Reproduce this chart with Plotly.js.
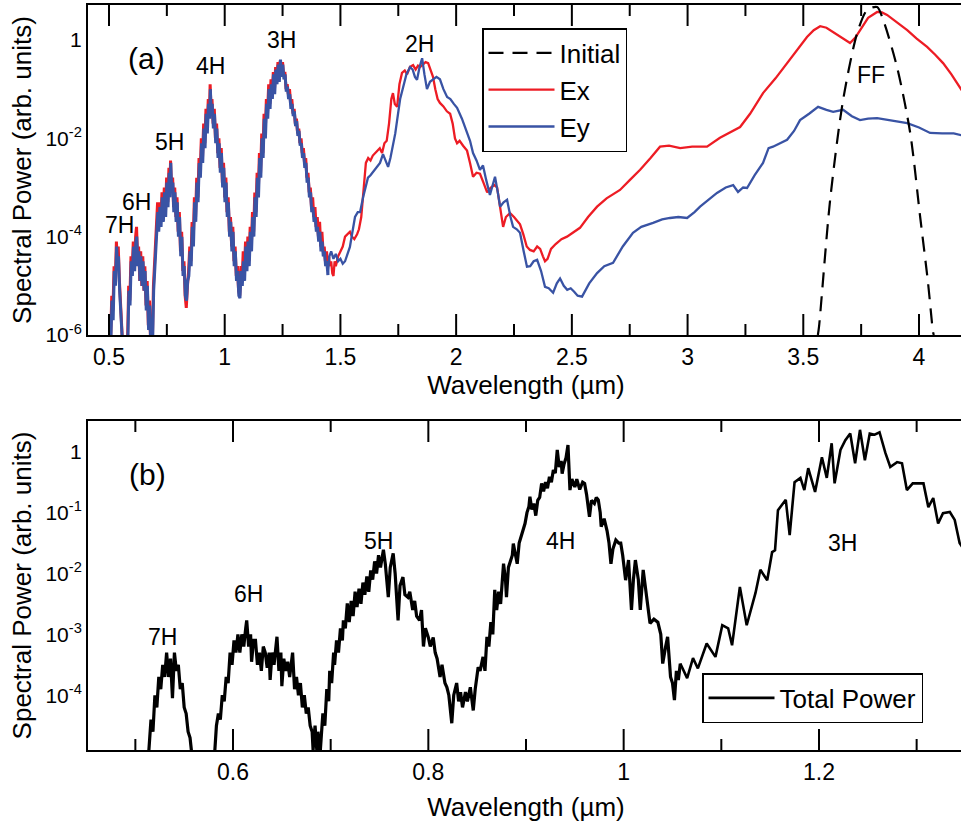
<!DOCTYPE html>
<html>
<head>
<meta charset="utf-8">
<script src="https://cdn.plot.ly/plotly-3.0.1.min.js"></script>
<style>
  html, body { margin: 0; padding: 0; background: #fff; overflow: hidden; }
  #chart { width: 964px; height: 824px; }
</style>
</head>
<body>
<div id="chart"></div>
<script>
// ---------------- DATA (y stored as log10 of spectral power) ----------------
// Panel (a): Ex component (red)
const exX = [0.505,0.512,0.517,0.522,0.527,0.532,0.536,0.540,0.545,0.550,0.555,0.561,0.572,0.580,0.585,0.590,0.595,0.600,0.605,0.610,0.615,0.619,0.624,0.628,0.633,0.637,0.642,0.646,0.651,0.655,0.660,0.665,0.670,0.675,0.680,0.686,0.692,0.697,0.702,0.706,0.710,0.714,0.719,0.724,0.729,0.734,0.739,0.744,0.749,0.754,0.759,0.763,0.766,0.770,0.775,0.779,0.784,0.789,0.794,0.799,0.804,0.809,0.814,0.819,0.824,0.829,0.834,0.839,0.844,0.849,0.854,0.859,0.864,0.869,0.874,0.879,0.884,0.889,0.894,0.899,0.904,0.909,0.914,0.919,0.924,0.929,0.934,0.937,0.941,0.945,0.950,0.955,0.960,0.965,0.970,0.975,0.980,0.985,0.990,0.995,1.000,1.005,1.010,1.015,1.020,1.025,1.030,1.035,1.040,1.045,1.050,1.055,1.060,1.065,1.070,1.075,1.080,1.085,1.090,1.095,1.100,1.105,1.110,1.115,1.120,1.125,1.130,1.135,1.140,1.145,1.150,1.155,1.160,1.165,1.170,1.175,1.180,1.185,1.190,1.195,1.200,1.205,1.210,1.215,1.220,1.225,1.230,1.235,1.240,1.245,1.250,1.255,1.260,1.265,1.270,1.275,1.280,1.285,1.290,1.295,1.300,1.305,1.310,1.315,1.320,1.325,1.330,1.335,1.340,1.345,1.350,1.355,1.360,1.365,1.370,1.375,1.380,1.385,1.390,1.395,1.400,1.405,1.410,1.415,1.420,1.425,1.430,1.435,1.440,1.445,1.450,1.455,1.460,1.465,1.470,1.475,1.480,1.490,1.500,1.510,1.520,1.530,1.541,1.550,1.560,1.572,1.580,1.590,1.600,1.610,1.620,1.630,1.640,1.650,1.660,1.670,1.680,1.690,1.700,1.710,1.720,1.727,1.735,1.745,1.755,1.766,1.778,1.788,1.800,1.814,1.825,1.835,1.844,1.855,1.868,1.879,1.890,1.900,1.910,1.920,1.930,1.945,1.960,1.974,1.985,1.995,2.004,2.015,2.030,2.047,2.060,2.073,2.088,2.103,2.118,2.134,2.150,2.165,2.177,2.190,2.203,2.215,2.233,2.250,2.265,2.276,2.290,2.305,2.319,2.335,2.350,2.363,2.375,2.384,2.395,2.410,2.430,2.455,2.479,2.505,2.535,2.570,2.609,2.650,2.708,2.750,2.795,2.840,2.881,2.920,2.968,3.020,3.084,3.140,3.185,3.227,3.270,3.326,3.380,3.430,3.475,3.516,3.545,3.573,3.600,3.629,3.665,3.702,3.725,3.745,3.780,3.819,3.840,3.862,3.905,3.949,3.990,4.035,4.070,4.104,4.140,4.182,4.195];
const exLog = [-6.4,-5.2,-5.5,-4.6,-4.9,-4.1,-4.5,-4.2,-4.9,-5.3,-5.8,-6.4,-6.6,-6.2,-5.0,-5.3,-4.4,-4.7,-4.1,-4.6,-4.0,-3.8,-4.5,-4.2,-4.9,-4.3,-5.0,-4.4,-5.1,-4.6,-5.4,-4.9,-5.8,-5.3,-6.2,-6.5,-5.0,-4.5,-4.2,-3.9,-3.3,-3.8,-3.3,-3.7,-3.1,-3.6,-3.0,-3.5,-2.8,-3.3,-2.6,-3.1,-2.45,-3.0,-2.8,-3.4,-3.0,-3.6,-3.2,-3.9,-3.5,-4.3,-3.9,-4.7,-4.5,-5.2,-5.45,-5.0,-4.7,-4.2,-4.5,-3.7,-4.1,-3.2,-3.6,-2.8,-3.2,-2.4,-2.7,-2.0,-2.4,-1.7,-2.1,-1.4,-1.8,-1.2,-1.5,-0.9,-1.4,-1.2,-1.7,-1.4,-2.0,-1.7,-2.3,-2.0,-2.6,-2.2,-2.9,-2.5,-3.2,-2.8,-3.5,-3.2,-3.9,-3.6,-4.2,-3.8,-4.5,-4.2,-4.8,-4.6,-5.1,-5.2,-4.6,-4.9,-4.3,-4.7,-4.1,-4.6,-4.0,-4.5,-3.8,-4.2,-3.5,-3.9,-3.1,-3.5,-2.7,-3.1,-2.3,-2.7,-1.9,-2.3,-1.5,-1.9,-1.2,-1.5,-0.9,-1.3,-0.8,-1.1,-0.65,-1.0,-0.55,-0.85,-0.45,-0.8,-0.42,-0.7,-0.45,-0.75,-0.65,-1.0,-0.9,-1.1,-1.0,-1.3,-1.2,-1.5,-1.4,-1.7,-1.6,-1.9,-1.8,-2.1,-2.0,-2.3,-2.2,-2.5,-2.4,-2.8,-2.7,-3.1,-3.0,-3.4,-3.2,-3.6,-3.4,-3.8,-3.6,-4.0,-3.7,-4.2,-3.9,-4.3,-4.2,-4.5,-4.3,-4.6,-4.4,-4.6,-4.5,-4.75,-4.8,-4.5,-4.6,-4.4,-4.3,-4.2,-4.0,-3.95,-3.9,-4.0,-4.05,-3.95,-3.85,-3.6,-3.0,-2.5,-2.4,-2.45,-2.35,-2.3,-2.25,-2.2,-2.3,-2.1,-2.05,-1.7,-1.2,-1.08,-1.3,-1.36,-0.9,-0.67,-0.62,-0.7,-0.55,-0.51,-0.6,-0.52,-0.55,-0.5,-0.45,-0.47,-0.6,-0.75,-1.0,-1.2,-1.28,-1.35,-1.45,-1.5,-1.7,-2.0,-2.1,-2.05,-2.15,-2.25,-2.5,-2.78,-2.7,-2.72,-2.9,-3.1,-3.0,-2.95,-3.0,-3.4,-3.8,-3.6,-3.52,-3.6,-3.7,-3.75,-3.95,-4.2,-4.27,-4.3,-4.2,-4.25,-4.4,-4.5,-4.45,-4.25,-4.15,-4.05,-4.0,-3.92,-3.82,-3.6,-3.39,-3.22,-3.05,-2.85,-2.64,-2.4,-2.17,-2.15,-2.2,-2.17,-2.17,-1.99,-1.88,-1.77,-1.5,-1.08,-0.78,-0.47,-0.2,0.06,0.2,0.28,0.25,0.16,0.05,-0.06,0.05,0.2,0.45,0.57,0.56,0.51,0.36,0.2,0.03,-0.14,-0.3,-0.47,-0.7,-1.02,-1.1];

// Panel (a): Ey component (blue)
const eyX = [0.507,0.513,0.518,0.523,0.528,0.533,0.537,0.541,0.546,0.551,0.556,0.562,0.573,0.581,0.586,0.591,0.596,0.601,0.606,0.611,0.616,0.620,0.625,0.629,0.634,0.638,0.643,0.647,0.652,0.656,0.661,0.666,0.671,0.676,0.681,0.687,0.693,0.698,0.703,0.707,0.711,0.715,0.720,0.725,0.730,0.735,0.740,0.745,0.750,0.755,0.760,0.764,0.767,0.771,0.776,0.780,0.785,0.790,0.795,0.800,0.805,0.810,0.815,0.820,0.825,0.830,0.835,0.840,0.845,0.850,0.855,0.860,0.865,0.870,0.875,0.880,0.885,0.890,0.895,0.900,0.905,0.910,0.915,0.920,0.925,0.930,0.935,0.938,0.942,0.946,0.951,0.956,0.961,0.966,0.971,0.976,0.981,0.986,0.991,0.996,1.001,1.006,1.011,1.016,1.021,1.026,1.031,1.036,1.041,1.046,1.051,1.056,1.061,1.066,1.071,1.076,1.081,1.086,1.091,1.096,1.101,1.106,1.111,1.116,1.121,1.126,1.131,1.136,1.141,1.146,1.151,1.156,1.161,1.166,1.171,1.176,1.181,1.186,1.191,1.196,1.201,1.206,1.211,1.216,1.221,1.226,1.231,1.236,1.241,1.246,1.251,1.256,1.261,1.266,1.271,1.276,1.281,1.286,1.291,1.296,1.301,1.306,1.311,1.316,1.321,1.326,1.331,1.336,1.341,1.346,1.351,1.356,1.361,1.366,1.371,1.376,1.381,1.386,1.391,1.396,1.401,1.406,1.411,1.416,1.421,1.426,1.431,1.436,1.441,1.446,1.452,1.460,1.470,1.480,1.490,1.500,1.510,1.520,1.530,1.541,1.552,1.563,1.575,1.585,1.598,1.610,1.619,1.630,1.641,1.655,1.671,1.684,1.695,1.706,1.716,1.727,1.737,1.745,1.758,1.771,1.785,1.801,1.812,1.822,1.831,1.842,1.853,1.863,1.874,1.887,1.900,1.915,1.930,1.945,1.961,1.975,1.990,2.004,2.025,2.047,2.060,2.073,2.088,2.103,2.116,2.130,2.146,2.158,2.168,2.180,2.190,2.205,2.220,2.235,2.246,2.262,2.276,2.292,2.306,2.320,2.335,2.350,2.367,2.384,2.400,2.419,2.435,2.449,2.465,2.480,2.495,2.510,2.525,2.544,2.575,2.609,2.640,2.678,2.720,2.764,2.800,2.851,2.890,2.924,2.960,2.998,3.030,3.054,3.090,3.127,3.165,3.197,3.218,3.240,3.257,3.290,3.326,3.350,3.369,3.400,3.430,3.460,3.486,3.525,3.564,3.600,3.629,3.672,3.710,3.745,3.780,3.819,3.860,3.949,4.000,4.048,4.100,4.150,4.195];
const eyLog = [-6.3,-5.3,-5.7,-4.7,-5.0,-4.2,-4.6,-4.4,-5.1,-5.5,-6.0,-6.5,-6.6,-6.2,-5.1,-5.4,-4.5,-4.8,-4.2,-4.7,-4.1,-4.0,-4.6,-4.3,-4.9,-4.4,-5.0,-4.5,-5.1,-4.7,-5.5,-5.0,-5.9,-5.4,-6.3,-6.5,-5.1,-4.6,-4.3,-4.0,-3.5,-3.9,-3.4,-3.8,-3.2,-3.7,-3.1,-3.6,-2.9,-3.4,-2.7,-3.2,-2.5,-3.1,-2.9,-3.5,-3.1,-3.7,-3.3,-4.0,-3.6,-4.4,-4.0,-4.8,-4.6,-5.2,-5.3,-4.9,-4.8,-4.3,-4.6,-3.8,-4.2,-3.3,-3.7,-2.9,-3.3,-2.5,-2.8,-2.1,-2.5,-1.8,-2.2,-1.5,-1.9,-1.3,-1.6,-1.0,-1.5,-1.3,-1.8,-1.5,-2.1,-1.8,-2.4,-2.1,-2.7,-2.3,-3.0,-2.6,-3.3,-2.9,-3.6,-3.3,-4.0,-3.7,-4.3,-3.9,-4.6,-4.3,-4.9,-4.7,-5.2,-5.25,-4.7,-5.0,-4.5,-4.9,-4.2,-4.7,-4.1,-4.6,-3.9,-4.3,-3.6,-4.0,-3.2,-3.6,-2.8,-3.2,-2.4,-2.8,-2.0,-2.4,-1.6,-2.0,-1.3,-1.6,-1.0,-1.4,-0.9,-1.2,-0.7,-1.1,-0.6,-0.9,-0.5,-0.85,-0.4,-0.75,-0.5,-0.8,-0.7,-1.05,-0.95,-1.2,-1.1,-1.4,-1.3,-1.55,-1.45,-1.75,-1.65,-1.95,-1.85,-2.15,-2.1,-2.4,-2.3,-2.6,-2.5,-2.9,-2.8,-3.2,-3.1,-3.5,-3.4,-3.7,-3.6,-3.9,-3.8,-4.1,-3.9,-4.3,-4.1,-4.4,-4.3,-4.6,-4.5,-4.78,-4.4,-4.3,-4.45,-4.35,-4.5,-4.45,-4.55,-4.5,-4.35,-4.21,-3.9,-3.6,-3.5,-3.5,-3.2,-2.95,-2.8,-2.75,-2.68,-2.6,-2.5,-2.32,-2.45,-2.58,-2.4,-2.17,-1.9,-1.63,-1.2,-0.96,-0.7,-0.55,-0.6,-0.75,-0.81,-0.55,-0.37,-0.7,-1.0,-0.85,-0.81,-0.75,-0.8,-1.0,-1.16,-1.2,-1.3,-1.38,-1.6,-1.89,-2.05,-2.3,-2.45,-2.64,-2.55,-2.85,-3.15,-2.95,-2.78,-3.1,-3.39,-3.3,-3.25,-3.6,-3.8,-3.85,-3.92,-4.3,-4.61,-4.6,-4.5,-4.47,-4.7,-5.02,-5.05,-5.14,-4.95,-4.85,-5.0,-5.08,-5.05,-5.12,-5.2,-5.22,-4.95,-4.74,-4.6,-4.53,-4.2,-3.92,-3.8,-3.72,-3.65,-3.62,-3.6,-3.62,-3.5,-3.39,-3.25,-3.11,-3.0,-2.95,-3.09,-3.0,-3.01,-2.75,-2.5,-2.2,-2.17,-2.1,-2.03,-1.85,-1.63,-1.5,-1.36,-1.42,-1.46,-1.42,-1.55,-1.63,-1.6,-1.59,-1.62,-1.69,-1.78,-1.89,-1.9,-1.9,-1.95];

// Panel (a): initial pulse (dashed)
const initX = [3.563,3.568,3.616,3.672,3.733,3.776,3.819,3.845,3.905,3.962,4.005,4.039,4.061,4.064];
const initLog = [-6.0,-5.83,-3.25,-1.22,0.14,0.61,0.67,0.41,-0.55,-1.89,-3.60,-4.94,-5.95,-6.0];

// Panel (b): total power (black)
const totX = [0.513,0.516,0.518,0.520,0.522,0.524,0.526,0.528,0.530,0.532,0.534,0.536,0.538,0.540,0.542,0.544,0.546,0.548,0.550,0.552,0.554,0.556,0.558,0.570,0.581,0.583,0.585,0.587,0.589,0.591,0.593,0.595,0.597,0.599,0.601,0.603,0.605,0.607,0.609,0.611,0.613,0.614,0.616,0.618,0.619,0.621,0.623,0.625,0.627,0.629,0.631,0.633,0.635,0.637,0.638,0.640,0.642,0.644,0.645,0.647,0.649,0.650,0.652,0.654,0.656,0.658,0.660,0.661,0.663,0.665,0.667,0.669,0.671,0.673,0.675,0.677,0.679,0.681,0.682,0.684,0.686,0.687,0.689,0.692,0.694,0.696,0.698,0.699,0.701,0.703,0.704,0.706,0.708,0.710,0.712,0.713,0.715,0.717,0.719,0.721,0.723,0.725,0.727,0.729,0.731,0.733,0.735,0.737,0.739,0.741,0.743,0.745,0.747,0.749,0.751,0.754,0.756,0.759,0.761,0.764,0.766,0.769,0.771,0.774,0.776,0.779,0.781,0.784,0.786,0.788,0.791,0.793,0.795,0.797,0.800,0.802,0.805,0.807,0.809,0.812,0.814,0.817,0.819,0.821,0.824,0.826,0.829,0.831,0.833,0.835,0.838,0.840,0.843,0.846,0.848,0.851,0.853,0.856,0.858,0.860,0.862,0.864,0.866,0.868,0.870,0.872,0.874,0.876,0.877,0.879,0.880,0.882,0.884,0.886,0.887,0.889,0.891,0.893,0.895,0.897,0.899,0.901,0.903,0.904,0.906,0.908,0.910,0.912,0.914,0.916,0.918,0.920,0.922,0.924,0.926,0.928,0.930,0.932,0.934,0.936,0.937,0.939,0.941,0.943,0.945,0.947,0.950,0.952,0.955,0.958,0.960,0.962,0.965,0.967,0.970,0.972,0.974,0.976,0.977,0.980,0.983,0.985,0.987,0.989,0.992,0.995,0.997,0.999,1.002,1.005,1.008,1.010,1.012,1.015,1.017,1.020,1.023,1.027,1.031,1.035,1.038,1.040,1.043,1.045,1.048,1.050,1.052,1.054,1.056,1.058,1.065,1.071,1.076,1.085,1.094,1.101,1.107,1.111,1.119,1.126,1.135,1.140,1.147,1.152,1.155,1.158,1.163,1.166,1.170,1.175,1.181,1.185,1.189,1.196,1.203,1.208,1.213,1.216,1.222,1.227,1.232,1.237,1.242,1.247,1.252,1.257,1.262,1.268,1.273,1.280,1.285,1.290,1.296,1.307,1.312,1.317,1.322,1.327,1.334,1.339,1.344,1.348];
const totLog = [-5.1,-4.4,-4.6,-4.0,-4.2,-3.7,-3.9,-3.5,-3.7,-3.3,-3.7,-3.4,-4.05,-3.3,-3.6,-3.5,-3.9,-3.8,-4.2,-4.3,-4.6,-4.7,-5.0,-5.5,-5.0,-4.5,-4.3,-4.4,-4.0,-4.1,-3.7,-3.8,-3.3,-3.5,-3.1,-3.3,-3.0,-3.3,-3.0,-3.2,-2.9,-2.77,-3.2,-3.0,-3.45,-3.1,-3.1,-3.5,-3.3,-3.6,-3.2,-3.3,-3.55,-3.3,-3.75,-3.3,-3.5,-3.1,-3.04,-3.6,-3.3,-3.85,-3.4,-3.6,-3.45,-3.7,-3.35,-3.3,-3.9,-3.7,-4.0,-3.8,-4.2,-4.0,-4.3,-4.2,-4.5,-4.6,-4.9,-4.5,-4.95,-4.6,-5.0,-4.3,-4.5,-3.9,-4.1,-3.6,-3.8,-3.3,-3.5,-3.1,-3.3,-2.9,-3.1,-2.77,-2.9,-2.49,-2.8,-2.45,-2.7,-2.3,-2.55,-2.25,-2.5,-2.15,-2.35,-2.05,-2.3,-1.95,-2.1,-1.8,-2.0,-1.7,-1.9,-1.61,-1.85,-2.39,-1.9,-1.67,-2.0,-2.77,-2.2,-2.06,-2.35,-2.39,-2.3,-2.6,-2.45,-2.7,-2.77,-2.6,-3.2,-2.9,-3.05,-3.2,-3.05,-3.3,-3.4,-3.7,-3.5,-3.8,-3.87,-4.0,-4.46,-4.0,-3.8,-4.1,-3.95,-4.2,-3.95,-4.1,-3.87,-4.25,-3.9,-3.54,-3.6,-3.37,-3.6,-3.04,-3.2,-2.8,-3.0,-2.27,-2.6,-2.3,-2.5,-2.0,-1.84,-2.1,-2.39,-1.9,-1.8,-1.7,-1.51,-1.7,-1.84,-1.5,-1.4,-1.3,-1.18,-1.0,-0.9,-0.74,-0.95,-0.85,-1.05,-0.8,-0.75,-0.52,-0.65,-0.5,-0.6,-0.41,-0.5,-0.3,-0.35,0.03,-0.25,-0.15,-0.36,-0.2,-0.1,0.11,-0.63,-0.45,-0.58,-0.45,-0.62,-0.5,-0.52,-0.7,-1.07,-0.8,-0.85,-0.75,-0.79,-1.0,-1.23,-1.1,-1.3,-1.5,-1.84,-1.6,-1.45,-1.5,-1.5,-1.7,-2.11,-1.78,-2.6,-2.1,-1.78,-2.1,-2.6,-1.94,-2.3,-2.82,-2.75,-2.8,-3.0,-3.48,-3.2,-3.04,-3.7,-3.8,-4.08,-3.6,-3.75,-3.48,-3.72,-3.39,-3.56,-3.15,-3.37,-2.85,-2.9,-3.18,-2.22,-2.85,-2.32,-1.94,-2.11,-1.65,-1.62,-0.96,-0.85,-0.79,-1.37,-0.5,-0.43,-0.63,-0.27,-0.66,-0.09,-0.43,0.14,-0.52,0.03,0.19,0.3,-0.19,0.36,-0.14,0.3,0.28,0.32,-0.02,-0.25,-0.17,-0.19,-0.63,-0.52,-0.52,-0.91,-0.76,-1.18,-1.01,-0.99,-1.12,-1.5,-1.6];

// Axis ticks and labels
const topXTicks = [0.5, 1, 1.5, 2, 2.5, 3, 3.5, 4];
const topXTickText = ['0.5', '1', '1.5', '2', '2.5', '3', '3.5', '4'];
const topXMinor = [0.75, 1.25, 1.75, 2.25, 2.75, 3.25, 3.75];
const topYTicks = [1e-6, 1e-4, 1e-2, 1];
const topYTickText = ['10<sup>-6</sup>', '10<sup>-4</sup>', '10<sup>-2</sup>', '1'];
const topYMinor = [1e-5, 1e-3, 1e-1];
const botXTicks = [0.6, 0.8, 1.0, 1.2];
const botXTickText = ['0.6', '0.8', '1', '1.2'];
const botXMinor = [0.5, 0.7, 0.9, 1.1, 1.3];
const botYTicks = [1e-4, 1e-3, 1e-2, 1e-1, 1];
const botYTickText = ['10<sup>-4</sup>', '10<sup>-3</sup>', '10<sup>-2</sup>', '10<sup>-1</sup>', '1'];
const botYMinor = [3.162e-5, 3.162e-4, 3.162e-3, 3.162e-2, 0.3162];

const seriesNames = ['Initial', 'Ex', 'Ey', 'Total Power'];

// ---------------- DRAWING ----------------
const toPow = arr => arr.map(v => Math.pow(10, v));
const FONT = 'Liberation Sans, Arial, Helvetica, sans-serif';
const RED = '#ED1C24';
const BLUE = '#3953A4';

// split a series where the dense harmonic comb ends, so that part can be drawn with a heavier stroke
function splitAt(xs, ys, cut) {
  const i = xs.findIndex(v => v > cut);
  return [{ x: xs.slice(0, i), y: toPow(ys.slice(0, i)) }, { x: xs.slice(i - 1), y: toPow(ys.slice(i - 1)) }];
}
const exParts = splitAt(exX, exLog, 1.45);
const eyParts = splitAt(eyX, eyLog, 1.45);
const totParts = splitAt(totX, totLog, 1.06);

const traces = [
  { x: exParts[0].x, y: exParts[0].y, type: 'scatter', mode: 'lines', name: seriesNames[1], showlegend: false,
    line: { color: RED, width: 3.0 }, xaxis: 'x', yaxis: 'y', legend: 'legend' },
  { x: exParts[1].x, y: exParts[1].y, type: 'scatter', mode: 'lines', name: seriesNames[1],
    line: { color: RED, width: 2.3 }, xaxis: 'x', yaxis: 'y', legend: 'legend', legendrank: 2 },
  { x: eyParts[0].x, y: eyParts[0].y, type: 'scatter', mode: 'lines', name: seriesNames[2], showlegend: false,
    line: { color: BLUE, width: 3.0 }, xaxis: 'x', yaxis: 'y', legend: 'legend' },
  { x: eyParts[1].x, y: eyParts[1].y, type: 'scatter', mode: 'lines', name: seriesNames[2],
    line: { color: BLUE, width: 2.3 }, xaxis: 'x', yaxis: 'y', legend: 'legend', legendrank: 3 },
  { x: initX, y: toPow(initLog), type: 'scatter', mode: 'lines', name: seriesNames[0],
    line: { color: '#000', width: 2.2, dash: '15px,9px', shape: 'spline', smoothing: 0.8 },
    xaxis: 'x', yaxis: 'y', legend: 'legend', legendrank: 1 },
  { x: totParts[0].x, y: totParts[0].y, type: 'scatter', mode: 'lines', name: seriesNames[3], showlegend: false,
    line: { color: '#000', width: 3.2 }, xaxis: 'x2', yaxis: 'y2', legend: 'legend2' },
  { x: totParts[1].x, y: totParts[1].y, type: 'scatter', mode: 'lines', name: seriesNames[3],
    line: { color: '#000', width: 2.6 }, xaxis: 'x2', yaxis: 'y2', legend: 'legend2' }
];

const W = 964, H = 824, ML = 88, MT = 5, MB = 74;
const PW = W - ML, PH = H - MT - MB;
const px = v => (v - ML) / PW;
const py = v => (H - MB - v) / PH;

const TOP_DOM = [py(335), 1];
const BOT_DOM = [0, py(421)];
const TOP_XR = [0.4093, 4.1944], TOP_YR = [-6, 0.712];
const BOT_XR = [0.4515, 1.3485], BOT_YR = [-4.90, 0.505];
const MAJ = 21, MIN = 11;

// inward tick marks on all four sides: position along the axis through the axis scale
const tickLine = { color: '#000', width: 2 };
function xTickShapes(vals, xa, dom, len) {
  const out = [];
  const lenP = len / PH;
  vals.forEach(v => {
    out.push({ type: 'line', xref: xa, yref: 'paper', x0: v, x1: v, y0: dom[0], y1: dom[0] + lenP, line: tickLine, layer: 'above' });
    out.push({ type: 'line', xref: xa, yref: 'paper', x0: v, x1: v, y0: dom[1], y1: dom[1] - lenP, line: tickLine, layer: 'above' });
  });
  return out;
}
function yTickShapes(vals, ya, len) {
  const out = [];
  const lenP = len / PW;
  vals.forEach(v => {
    const lv = Math.log10(v);
    out.push({ type: 'line', xref: 'paper', yref: ya, x0: 0, x1: lenP, y0: lv, y1: lv, line: tickLine, layer: 'above' });
    out.push({ type: 'line', xref: 'paper', yref: ya, x0: 1, x1: 1 - lenP, y0: lv, y1: lv, line: tickLine, layer: 'above' });
  });
  return out;
}
const shapes = [].concat(
  xTickShapes(topXTicks, 'x', TOP_DOM, MAJ), xTickShapes(topXMinor, 'x', TOP_DOM, MIN),
  yTickShapes(topYTicks, 'y', MAJ), yTickShapes(topYMinor, 'y', MIN),
  xTickShapes(botXTicks, 'x2', BOT_DOM, MAJ), xTickShapes(botXMinor, 'x2', BOT_DOM, MIN),
  yTickShapes(botYTicks, 'y2', MAJ), yTickShapes(botYMinor, 'y2', MIN)
);

const axBase = {
  showline: true, linecolor: '#000', linewidth: 2, mirror: true,
  ticks: '', showgrid: false, zeroline: false, tickmode: 'array', automargin: false
};
const titleFont = { family: FONT, size: 26, color: '#000' };
const xTickFont = { family: FONT, size: 23, color: '#000' };
const yTickFont = { family: FONT, size: 21, color: '#000' };

const annSpec = [
  ['(a)', 146, 58, 30], ['7H', 119, 225, 23], ['6H', 136, 202, 23], ['5H', 169, 142, 23],
  ['4H', 210, 66, 23], ['3H', 281, 40, 23], ['2H', 419, 44, 23], ['FF', 871, 75, 23],
  ['(b)', 147, 474, 30], ['7H', 162, 637, 23], ['6H', 248, 594, 23], ['5H', 378, 541, 23],
  ['4H', 560, 541, 23], ['3H', 842, 543, 23]
];
const annotations = annSpec.map(a => ({
  text: a[0], x: px(a[1]), y: py(a[2]), xref: 'paper', yref: 'paper',
  xanchor: 'center', yanchor: 'middle', showarrow: false,
  font: { family: FONT, size: a[3], color: '#000' }
}));

const layout = {
  width: W, height: H,
  margin: { l: ML, r: 0, t: MT, b: MB, pad: 0 },
  paper_bgcolor: '#fff', plot_bgcolor: '#fff',
  font: { family: FONT, color: '#000' },
  showlegend: true,
  xaxis: Object.assign({}, axBase, {
    domain: [0, 1], anchor: 'y', range: TOP_XR,
    tickvals: topXTicks, ticktext: topXTickText, tickfont: xTickFont,
    title: { text: 'Wavelength (µm)', font: titleFont, standoff: 4 }
  }),
  yaxis: Object.assign({}, axBase, {
    type: 'log', domain: TOP_DOM, anchor: 'x', range: TOP_YR,
    tickvals: topYTicks, ticktext: topYTickText, tickfont: yTickFont,
    title: { text: 'Spectral Power (arb. units)', font: titleFont, standoff: 6 }
  }),
  xaxis2: Object.assign({}, axBase, {
    domain: [0, 1], anchor: 'y2', range: BOT_XR,
    tickvals: botXTicks, ticktext: botXTickText, tickfont: xTickFont,
    title: { text: 'Wavelength (µm)', font: titleFont, standoff: 14 }
  }),
  yaxis2: Object.assign({}, axBase, {
    type: 'log', domain: BOT_DOM, anchor: 'x2', range: BOT_YR,
    tickvals: botYTicks, ticktext: botYTickText, tickfont: yTickFont,
    title: { text: 'Spectral Power (arb. units)', font: titleFont, standoff: 6 }
  }),
  legend: {
    x: px(482), y: py(28), xanchor: 'left', yanchor: 'top',
    bgcolor: '#fff', bordercolor: '#000', borderwidth: 1.5,
    font: { family: FONT, size: 26, color: '#000' }, itemwidth: 66, tracegroupgap: 0,
    traceorder: 'normal'
  },
  legend2: {
    x: px(702), y: py(673), xanchor: 'left', yanchor: 'top',
    bgcolor: '#fff', bordercolor: '#000', borderwidth: 1.5,
    font: { family: FONT, size: 26, color: '#000' }, itemwidth: 66
  },
  shapes: shapes,
  annotations: annotations
};

Plotly.newPlot('chart', traces, layout, { displayModeBar: false, staticPlot: true });
</script>
</body>
</html>
